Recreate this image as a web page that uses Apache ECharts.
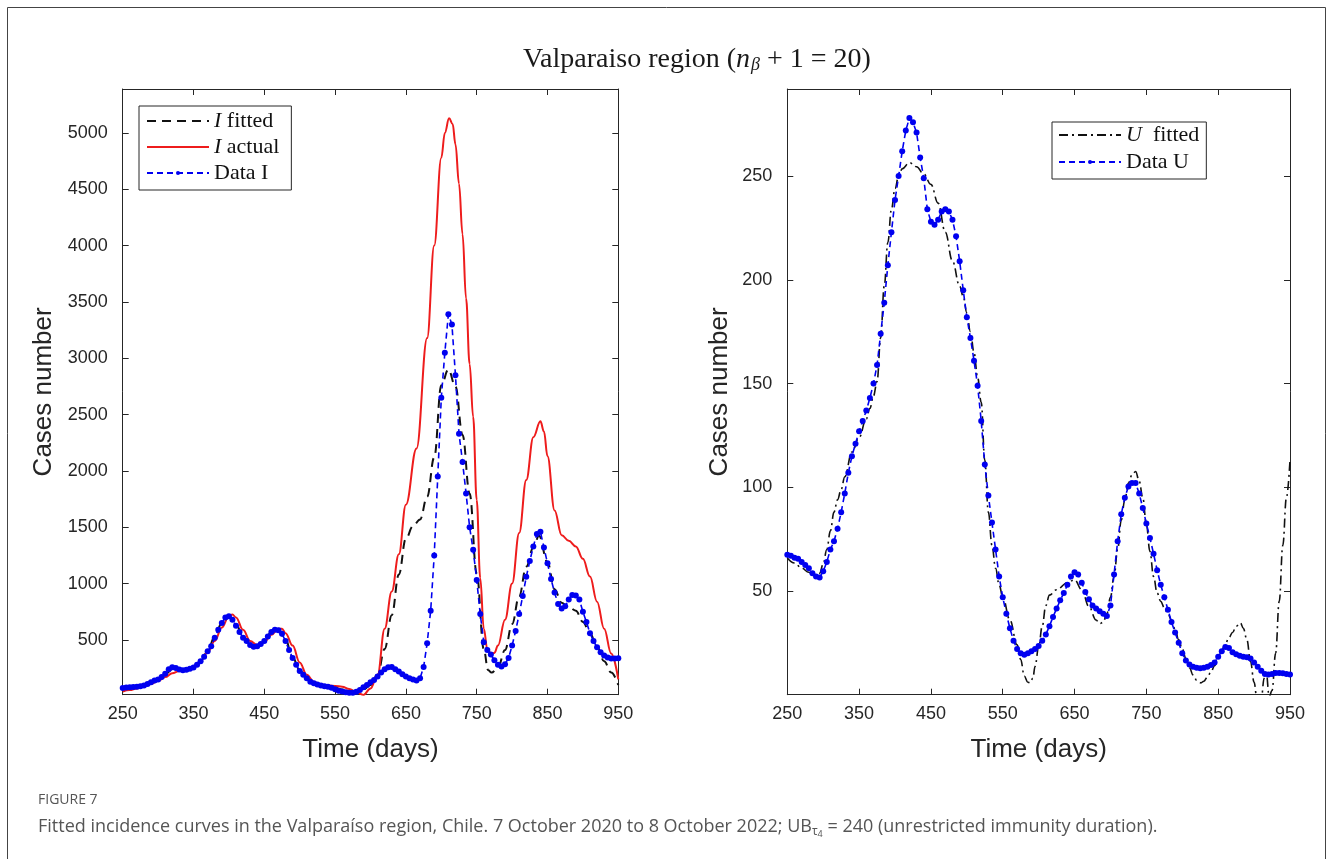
<!DOCTYPE html>
<html>
<head>
<meta charset="utf-8">
<script src="https://cdn.jsdelivr.net/npm/echarts@6/dist/echarts.min.js"></script>
<style>
html,body{margin:0;padding:0;background:#fff;}
#chart{width:1332px;height:859px;}
</style>
</head>
<body>
<div id="chart"></div>
<script>
// ---------- tick labels ----------
const xTicks = [250, 350, 450, 550, 650, 750, 850, 950];
const iTicks = [500, 1000, 1500, 2000, 2500, 3000, 3500, 4000, 4500, 5000];
const uTicks = [50, 100, 150, 200, 250];

// ---------- daily-data sample days ----------
const dataDays = [250,255,260,265,270,275,280,285,290,295,300,305,310,315,320,325,330,335,340,345,
350,355,360,365,370,375,380,385,390,395,400,405,410,415,420,425,430,435,440,445,
450,455,460,465,470,475,480,485,490,495,500,505,510,515,520,525,530,535,540,545,
550,555,560,565,570,575,580,585,590,595,600,605,610,615,620,625,630,635,640,645,
650,655,660,665,670,675,680,685,690,695,700,705,710,715,720,725,730,735,740,745,
750,755,760,765,770,775,780,785,790,795,800,805,810,815,820,825,830,835,840,845,
850,855,860,865,870,875,880,885,890,895,900,905,910,915,920,925,930,935,940,945,950];

// ---------- Data I ----------
const dataI = [74,78,80,82,85,90,95,110,125,140,
150,170,200,240,258,250,238,232,235,245,
255,280,310,350,400,445,520,590,650,700,
710,680,625,570,520,490,455,440,445,465,
490,530,570,590,585,555,490,410,340,280,
225,190,160,130,115,105,95,88,85,75,
62,50,42,36,32,32,40,55,80,100,
125,145,175,210,240,258,260,240,220,195,
175,160,148,140,160,260,470,760,1250,1950,
2650,3050,3390,3300,2850,2330,2080,1800,1500,1300,
1033,730,480,410,370,320,280,265,285,340,
450,580,730,890,1060,1200,1330,1440,1460,1320,
1180,1040,920,820,780,800,860,900,895,860,
750,660,560,490,435,390,362,345,335,335,337];

// ---------- I fitted [day, value] ----------
const iFitted = [[250,70],[260,78],[270,88],[280,100],[290,125],[300,150],[310,195],[320,240],[330,240],[340,240],
[350,260],[360,310],[370,400],[380,530],[390,650],[400,705],[410,640],[420,530],[430,465],[440,450],
[450,490],[460,570],[470,590],[480,500],[490,345],[500,230],[510,160],[520,120],[530,100],[540,88],
[550,75],[560,60],[570,45],[580,40],[590,60],[600,100],[610,190],[620,420],[630,720],[640,1080],
[650,1400],[660,1510],[670,1570],[680,1770],[690,2120],[700,2760],[710,2900],[720,2750],[730,2320],[740,1800],
[750,1090],[760,420],[766,234],[771,210],[780,255],[790,410],[800,640],[810,890],[820,1150],[830,1320],
[838,1425],[850,1190],[860,950],[870,830],[880,790],[890,760],[900,660],[910,560],[920,440],[930,310],
[940,210],[950,100]];

// ---------- I actual [day, value] ----------
const iActual = [[250,42],[260,55],[270,70],[280,90],[290,110],[300,135],[310,170],[320,205],[330,225],[340,240],
[350,265],[360,310],[370,390],[380,490],[390,610],[400,710],[405,725],[410,700],[420,590],[430,490],
[440,455],[450,480],[460,545],[470,600],[475,600],[480,560],[490,450],[500,300],[510,190],[520,130],
[530,105],[540,95],[550,92],[560,85],[570,65],[580,35],[590,12],[600,70],[610,190],[620,600],
[630,930],[640,1260],[650,1700],[665,2200],[680,3180],[690,4000],
[700,4780],[705,5000],[711,5130],[716,5080],[720,4900],[725,4550],[730,4100],[735,3530],[740,2950],
[745,2480],[750,1743],[755,1050],[760,600],[765,420],[770,380],[775,385],[780,450],[790,680],[800,1000],
[810,1450],[820,1920],[830,2300],[840,2440],[845,2350],[850,2130],[860,1650],[870,1430],[880,1380],[890,1330],
[900,1220],[910,1062],[920,840],[930,600],[940,380],[950,150]];

// ---------- Data U ----------
const dataU = [67.5,67,66,65.5,64,62.5,61,58.5,57,56.5,
59.5,64,70,74,80,88,97,107,115,121,
127,132,137,143,150,159,174,189,207,223,
238.5,250,262,272,278,276,271,259,249,234,
228,226.5,229,233,234,233,229,221,209,195,
182,172,161,149,132,111,96,83,70,57,
47,39,32,26,22,20,19.3,20,20.9,22,
23.5,26,29,33,37.5,41.5,45.5,49,53,57,
59,58,54,49.5,46,43,41.5,40.2,39,38,
43,58,74,87,95,100.4,102,102,97,90,
82.5,75.5,68,60,53,47,41,35,30,25,
20,16.5,14.5,13.5,13,12.8,13,13.5,14.3,15.5,
18.3,21,23,22.5,20.5,19.5,18.8,18.3,18,17.5,
15.5,13.5,11.5,10,9.7,10,10.5,10.5,10.3,10,9.7];

// ---------- U fitted [day, value] ----------
const uFitted = [[250,65.9],[260,63.5],[270,61],[280,59],[290,57.5],[295,58.5],[300,63],[305,70],[310,79],[315,88],
[320,94],[325,99],[330,105],[340,117],[350,124],[360,133],[365,138],[370,144],[375,151],[380,172],
[385,197],[390,218],[395,234],[400,244],[405,250],[410,253.5],[420,256.5],[430,254.5],[440,251],[450,246],
[460,237],[470,223],[480,209],[490,197],[495,192],[500,184],[505,175],[510,165],[515,153],[520,141],
[525,113],[530,88],[535,72],[540,61],[545,53],[550,47],[560,36],[570,24],[575,17],[580,9],
[585,6],[588,5.7],[592,8],[595,13.7],[600,23],[605,33],[610,43],[615,48],[625,50.6],[640,54],
[650,55.4],[660,50.6],[670,42.5],[680,36],[685,34.2],[690,35],[695,39],[700,47],[705,57],[710,70],
[715,84],[720,94],[725,102],[730,106],[735,107.6],[740,103],[745,95],[750,82],[755,69],[760,57],
[765,49],[770,45],[775,42],[780,39],[785,36],[790,31.5],[795,26.5],[800,22],[805,17.5],[810,13],
[815,9.5],[820,7],[826,5.7],[830,6.5],[835,8.5],[840,11],[845,14],[850,18],[855,21.5],[860,24.5],
[865,27.5],[870,30],[875,33],[881,34.6],[885,32],[890,26.5],[895,16],[900,6],[904,-2],[910,-2],
[914,8],[917,10.5],[921,-1],[925,2],[930,20],[935,45],[940,72],[945,95],[950,113]];

const AX = '#262626';
const SANS = 'Liberation Sans';
const SERIF = 'Liberation Serif';
const plain = v => String(v);

function xBottom(g) {
  return {
    type: 'value', gridIndex: g, min: 250, max: 950, position: 'bottom',
    axisLine: { show: true, onZero: false, lineStyle: { color: AX, width: 1 } },
    axisTick: { show: true, inside: true, length: 6, customValues: xTicks, lineStyle: { color: AX } },
    axisLabel: { show: true, customValues: xTicks, formatter: plain, fontSize: 18, color: AX, fontFamily: SANS, margin: 10 },
    splitLine: { show: false },
    name: 'Time (days)', nameLocation: 'middle', nameGap: 42,
    nameTextStyle: { fontSize: 26, color: AX, fontFamily: SANS }
  };
}
function xTop(g) {
  return {
    type: 'value', gridIndex: g, min: 250, max: 950, position: 'top',
    axisLine: { show: true, onZero: false, lineStyle: { color: AX, width: 1 } },
    axisTick: { show: true, inside: true, length: 6, customValues: xTicks, lineStyle: { color: AX } },
    axisLabel: { show: false }, splitLine: { show: false }
  };
}
function yLeft(g, min, max, ticks, gap) {
  return {
    type: 'value', gridIndex: g, min: min, max: max, position: 'left',
    axisLine: { show: true, onZero: false, lineStyle: { color: AX, width: 1 } },
    axisTick: { show: true, inside: true, length: 6, customValues: ticks, lineStyle: { color: AX } },
    axisLabel: { show: true, customValues: ticks, formatter: plain, fontSize: 18, color: AX, fontFamily: SANS, margin: 15 },
    splitLine: { show: false },
    name: 'Cases number', nameLocation: 'middle', nameGap: gap, nameRotate: 90,
    nameTextStyle: { fontSize: 26, color: AX, fontFamily: SANS }
  };
}
function yRight(g, min, max, ticks) {
  return {
    type: 'value', gridIndex: g, min: min, max: max, position: 'right',
    axisLine: { show: true, onZero: false, lineStyle: { color: AX, width: 1 } },
    axisTick: { show: true, inside: true, length: 6, customValues: ticks, lineStyle: { color: AX } },
    axisLabel: { show: false }, splitLine: { show: false }
  };
}

const legendText = {
  fontFamily: SERIF, fontSize: 22, color: '#111', lineHeight: 22,
  rich: {
    it: { fontFamily: SERIF, fontSize: 22, fontStyle: 'italic', color: '#111', lineHeight: 22 },
    r: { fontFamily: SERIF, fontSize: 22, color: '#111', lineHeight: 22 }
  }
};
function legendFormatter(name) {
  if (name === 'I fitted') return '{it|I}{r| fitted}';
  if (name === 'I actual') return '{it|I}{r| actual}';
  if (name === 'U fitted') return '{it|U}{r|  fitted}';
  return '{r|' + name + '}';
}

const chart = echarts.init(document.getElementById('chart'), null, { renderer: 'canvas' });
chart.setOption({
  animation: false,
  backgroundColor: '#ffffff',
  graphic: [{
    type: 'rect', silent: true, z: -10,
    shape: { x: 7.5, y: 7.5, width: 1318, height: 870 },
    style: { fill: 'none', stroke: '#444', lineWidth: 1 }
  }],
  title: [{
    text: '{a|Valparaiso region (}{n|n}{s|β}{a| + 1 = 20)}',
    left: 523, top: 46, padding: 0,
    textStyle: {
      fontWeight: 'normal',
      rich: {
        a: { fontFamily: SERIF, fontSize: 28, fontWeight: 'normal', color: '#1a1a1a' },
        n: { fontFamily: SERIF, fontSize: 28, fontWeight: 'normal', fontStyle: 'italic', color: '#1a1a1a' },
        s: { fontFamily: SERIF, fontSize: 18, fontWeight: 'normal', fontStyle: 'italic', color: '#1a1a1a', padding: [10, 0, 0, 1] }
      }
    }
  }, {
    text: 'FIGURE 7', left: 38, top: 793, padding: 0,
    textStyle: { fontFamily: 'Open Sans', fontSize: 14, fontWeight: 'normal', color: '#555' }
  }, {
    text: '{a|Fitted incidence curves in the Valparaíso region, Chile. 7 October 2020 to 8 October 2022; UB}{s|τ}{t|4}{a| = 240 (unrestricted immunity duration).}',
    left: 38, top: 814, padding: 0,
    textStyle: {
      fontWeight: 'normal',
      rich: {
        a: { fontFamily: 'Open Sans', fontSize: 18, fontWeight: 'normal', color: '#555' },
        s: { fontFamily: 'Open Sans', fontSize: 12, fontWeight: 'normal', color: '#555', padding: [10, 0, 0, 0] },
        t: { fontFamily: 'Open Sans', fontSize: 9, fontWeight: 'normal', color: '#555', padding: [16, 0, 0, 0] }
      }
    }
  }],
  legend: [{
    data: [{ name: 'I fitted', itemStyle: { opacity: 0 } }, { name: 'I actual', itemStyle: { opacity: 0 } }, 'Data I'],
    orient: 'vertical', left: 139, top: 106,
    itemWidth: 62, itemHeight: 5, itemGap: 4,
    padding: [4, 12, 6, 7],
    borderColor: AX, borderWidth: 1, borderRadius: 0, backgroundColor: '#fff',
    selectedMode: false, formatter: legendFormatter, textStyle: legendText
  }, {
    data: [{ name: 'U fitted', itemStyle: { opacity: 0 } }, 'Data U'],
    orient: 'vertical', left: 1052, top: 122,
    itemWidth: 62, itemHeight: 5, itemGap: 5,
    padding: [2, 7, 6, 6],
    borderColor: AX, borderWidth: 1, borderRadius: 0, backgroundColor: '#fff',
    selectedMode: false, formatter: legendFormatter, textStyle: legendText
  }],
  grid: [
    { left: 122.7, top: 89, width: 495.6, height: 605.7, containLabel: false },
    { left: 787.3, top: 89, width: 502.7, height: 605.7, containLabel: false }
  ],
  xAxis: [xBottom(0), xBottom(1), xTop(0), xTop(1)],
  yAxis: [yLeft(0, 14, 5390, iTicks, 66), yLeft(1, 0, 292, uTicks, 54), yRight(0, 14, 5390, iTicks), yRight(1, 0, 292, uTicks)],
  series: [{
    name: 'I fitted', type: 'line', xAxisIndex: 0, yAxisIndex: 0,
    data: iFitted, symbol: 'none', smooth: 0.4, smoothMonotone: 'x', clip: true,
    lineStyle: { color: '#111', width: 2, type: [9, 6] }, itemStyle: { color: '#111' }, z: 2
  }, {
    name: 'I actual', type: 'line', xAxisIndex: 0, yAxisIndex: 0,
    data: iActual, symbol: 'none', smooth: 0.4, smoothMonotone: 'x', clip: true,
    lineStyle: { color: '#ee1c1c', width: 2, type: 'solid' }, itemStyle: { color: '#ee1c1c' }, z: 3
  }, {
    name: 'Data I', type: 'line', xAxisIndex: 0, yAxisIndex: 0,
    data: dataDays.map((d, k) => [d, dataI[k]]), symbol: 'circle', symbolSize: 6, clip: true,
    lineStyle: { color: '#0000f0', width: 1.6, type: [6, 4] }, itemStyle: { color: '#0000f0' }, z: 4
  }, {
    name: 'U fitted', type: 'line', xAxisIndex: 1, yAxisIndex: 1,
    data: uFitted, symbol: 'none', smooth: 0.4, smoothMonotone: 'x', clip: true,
    lineStyle: { color: '#111', width: 1.6, type: [9, 4, 2, 4] }, itemStyle: { color: '#111' }, z: 2
  }, {
    name: 'Data U', type: 'line', xAxisIndex: 1, yAxisIndex: 1,
    data: dataDays.map((d, k) => [d, dataU[k]]), symbol: 'circle', symbolSize: 6, clip: true,
    lineStyle: { color: '#0000f0', width: 1.6, type: [6, 4] }, itemStyle: { color: '#0000f0' }, z: 4
  }]
});
</script>
</body>
</html>
